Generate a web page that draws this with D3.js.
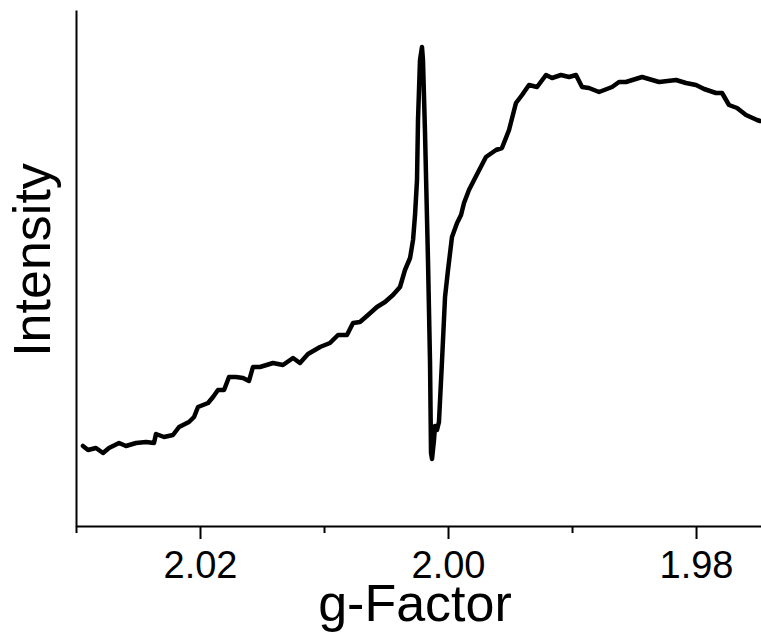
<!DOCTYPE html>
<html>
<head>
<meta charset="utf-8">
<script src="https://cdn.jsdelivr.net/npm/d3@7/dist/d3.min.js"></script>
<style>
  html, body { margin: 0; padding: 0; background: #fff; }
  svg { display: block; }
  text { font-family: Arial, "Liberation Sans", sans-serif; fill: #000; }
</style>
</head>
<body>
<svg id="chart" width="761" height="637"></svg>
<script>
// g-factor values (x) and EPR intensity (arbitrary units)
const gFactor = [
  2.02944, 2.02903, 2.02839, 2.02782, 2.02734, 2.02653, 2.02597, 2.02516, 2.02435, 2.02371,
  2.02355, 2.02290, 2.02218, 2.02169, 2.02089, 2.02048, 2.02016, 2.01935, 2.01895, 2.01855,
  2.01806, 2.01766, 2.01710, 2.01653, 2.01605, 2.01573, 2.01516, 2.01411, 2.01331, 2.01250,
  2.01194, 2.01129, 2.01032, 2.00952, 2.00887, 2.00815, 2.00766, 2.00710, 2.00645, 2.00573,
  2.00508, 2.00444, 2.00387, 2.00347, 2.00306, 2.00282, 2.00266, 2.00250, 2.00242, 2.00226,
  2.00210, 2.00202, 2.00186, 2.00161, 2.00145, 2.00137, 2.00129, 2.00113, 2.00105, 2.00089,
  2.00073, 2.00048, 2.00024, 2.00000, 1.99968, 1.99927, 1.99895, 1.99871, 1.99831, 1.99790,
  1.99694, 1.99613, 1.99565, 1.99508, 1.99452, 1.99403, 1.99347, 1.99282, 1.99210, 1.99161,
  1.99089, 1.99024, 1.98968, 1.98919, 1.98863, 1.98782, 1.98677, 1.98621, 1.98565, 1.98435,
  1.98298, 1.98161, 1.98081, 1.98000, 1.97935, 1.97839, 1.97790, 1.97734, 1.97669, 1.97597,
  1.97508, 1.97484
];
const intensity = [
  80, 76, 78, 73, 78, 83, 80, 83, 84, 83,
  92, 89, 91, 99, 104, 109, 119, 123, 129, 136,
  136, 149, 149, 148, 145, 159, 159, 163, 161, 168,
  163, 172, 179, 183, 191, 191, 203, 204, 211, 219,
  224, 231, 239, 256, 268, 286, 311, 346, 406, 466,
  479, 466, 396, 263, 163, 73, 67, 86, 100, 96,
  104, 166, 229, 256, 289, 303, 311, 323, 336, 346,
  369, 376, 378, 396, 423, 431, 441, 439, 451, 448,
  451, 449, 451, 439, 438, 434, 439, 444, 444, 449,
  444, 446, 443, 441, 437, 433, 433, 421, 418, 411,
  406, 405
];
const xTickMajor = [2.02, 2.00, 1.98];
const xTickMinor = [2.03, 2.01, 1.99];
const xTitle = "g-Factor";
const yTitle = "Intensity";

const mLeft = 76, mRight = 761, mTop = 10, mBottom = 526;

const svg = d3.select("#chart");

// reversed g-factor axis
const x = d3.scaleLinear().domain([2.03, 1.97476]).range([mLeft, mRight]);
const y = d3.scaleLinear().domain([0, 516]).range([mBottom, mTop]);

const data = gFactor.map((g, i) => ({ g, v: intensity[i] }));

svg.append("clipPath").attr("id", "clip")
  .append("rect").attr("x", mLeft).attr("y", 0).attr("width", mRight - mLeft).attr("height", mBottom);

svg.append("path")
  .datum(data)
  .attr("clip-path", "url(#clip)")
  .attr("fill", "none")
  .attr("stroke", "#000")
  .attr("stroke-width", 4.5)
  .attr("stroke-linejoin", "round")
  .attr("stroke-linecap", "round")
  .attr("d", d3.line().x(d => x(d.g)).y(d => y(d.v)));

// bottom axis: major ticks with labels
const axMajor = svg.append("g")
  .attr("transform", `translate(0,${mBottom})`)
  .call(d3.axisBottom(x).tickValues(xTickMajor).tickFormat(d3.format(".2f"))
        .tickSize(13).tickPadding(12).tickSizeOuter(0));
axMajor.select(".domain").attr("stroke", "#000").attr("stroke-width", 2);
axMajor.selectAll(".tick line").attr("stroke", "#000").attr("stroke-width", 2);
axMajor.selectAll(".tick text").attr("font-size", 38).attr("font-family", "Arial, 'Liberation Sans', sans-serif");

// minor ticks
const axMinor = svg.append("g")
  .attr("transform", `translate(0,${mBottom})`)
  .call(d3.axisBottom(x).tickValues(xTickMinor).tickFormat("").tickSize(7).tickSizeOuter(0));
axMinor.select(".domain").remove();
axMinor.selectAll(".tick line").attr("stroke", "#000").attr("stroke-width", 2);

// left axis (no ticks)
const axLeft = svg.append("g")
  .attr("transform", `translate(${mLeft},0)`)
  .call(d3.axisLeft(y).tickValues([]).tickSizeOuter(0));
axLeft.select(".domain").attr("stroke", "#000").attr("stroke-width", 2);

// titles
svg.append("text")
  .attr("x", 415).attr("y", 621)
  .attr("text-anchor", "middle")
  .attr("font-size", 52)
  .text(xTitle);

svg.append("text")
  .attr("transform", `translate(50,260) rotate(-90)`)
  .attr("text-anchor", "middle")
  .attr("font-size", 52)
  .text(yTitle);
</script>
</body>
</html>
